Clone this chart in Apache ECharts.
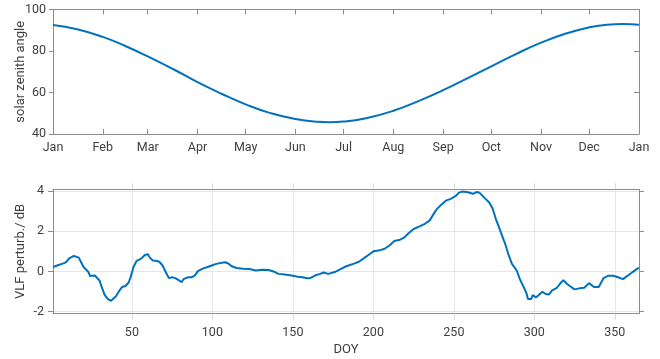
<!DOCTYPE html>
<html>
<head>
<meta charset="utf-8">
<script src="https://cdn.jsdelivr.net/npm/echarts@6/dist/echarts.min.js"></script>
<style>
  html, body { margin: 0; padding: 0; background: #ffffff; }
  #chart { width: 660px; height: 359px; }
</style>
</head>
<body>
<div id="chart"></div>
<script>
// Upper panel: noon solar zenith angle over the year
const monthStarts = [0, 31, 59, 90, 120, 151, 181, 212, 243, 273, 304, 334, 365];
const monthNames = ['Jan', 'Feb', 'Mar', 'Apr', 'May', 'Jun', 'Jul', 'Aug', 'Sep', 'Oct', 'Nov', 'Dec', 'Jan'];
const szaTicks = [40, 60, 80, 100];
const szaDays = [0, 15, 31, 45, 59, 75, 90, 105, 120, 135, 151, 165, 172, 181, 195, 212, 228, 243, 258, 273, 288, 304, 319, 334, 345, 355, 365];
const szaValues = [92.5, 90.5, 86.8, 82.4, 77.4, 71.2, 65.0, 59.4, 54.3, 50.2, 47.2, 45.9, 45.7, 46.0, 47.6, 51.2, 56.0, 61.1, 66.8, 72.6, 78.4, 84.0, 88.3, 91.4, 92.7, 93.0, 92.6];

// Lower panel: VLF amplitude perturbation by day of year
const doyTicks = [50, 100, 150, 200, 250, 300, 350];
const vlfTicks = [-2, 0, 2, 4];
const vlfDays = [1, 4, 7, 9, 11, 14, 15, 17, 18, 20, 23, 24, 27, 28, 30, 31, 33, 35, 37, 38, 40, 42, 44, 46, 48, 49, 51, 53, 56, 58, 60, 61, 63, 65, 67, 69, 71, 73, 75, 77, 79, 81, 82, 85, 87, 89, 91, 94, 97, 100, 103, 106, 108, 110, 112, 115, 119, 123, 127, 131, 135, 138, 141, 145, 150, 153, 156, 159, 161, 164, 167, 169, 172, 176, 179, 182, 185, 188, 191, 194, 198, 200, 204, 207, 210, 213, 216, 219, 222, 225, 229, 232, 235, 237, 239, 242, 245, 248, 251, 253, 255, 258, 262, 264, 266, 269, 272, 274, 276, 278, 280, 282, 284, 286, 289, 291, 293, 295, 296, 298, 299, 301, 302, 305, 307, 308, 309, 311, 314, 316, 318, 320, 322, 325, 328, 331, 334, 337, 340, 343, 346, 349, 352, 355, 358, 361, 364, 365];
const vlfValues = [0.22, 0.31, 0.39, 0.45, 0.65, 0.77, 0.70, 0.69, 0.53, 0.22, -0.03, -0.22, -0.20, -0.25, -0.46, -0.72, -1.15, -1.36, -1.46, -1.43, -1.24, -0.98, -0.77, -0.72, -0.55, -0.33, 0.22, 0.53, 0.65, 0.82, 0.86, 0.70, 0.55, 0.53, 0.48, 0.31, -0.03, -0.33, -0.29, -0.33, -0.43, -0.53, -0.38, -0.29, -0.29, -0.21, 0.02, 0.14, 0.22, 0.31, 0.39, 0.43, 0.46, 0.39, 0.26, 0.17, 0.14, 0.12, 0.05, 0.09, 0.07, 0.00, -0.12, -0.15, -0.21, -0.26, -0.29, -0.34, -0.32, -0.19, -0.12, -0.05, -0.12, -0.03, 0.09, 0.22, 0.31, 0.39, 0.48, 0.65, 0.88, 1.00, 1.05, 1.13, 1.29, 1.51, 1.56, 1.68, 1.91, 2.11, 2.25, 2.37, 2.54, 2.80, 3.06, 3.31, 3.52, 3.61, 3.74, 3.91, 3.97, 3.95, 3.86, 3.95, 3.91, 3.66, 3.43, 3.14, 2.63, 2.20, 1.77, 1.34, 0.82, 0.39, 0.05, -0.38, -0.72, -1.06, -1.37, -1.37, -1.18, -1.29, -1.24, -1.01, -1.12, -1.07, -1.15, -0.94, -0.81, -0.60, -0.43, -0.60, -0.72, -0.89, -0.84, -0.81, -0.58, -0.77, -0.77, -0.33, -0.21, -0.21, -0.29, -0.38, -0.21, -0.03, 0.14, 0.18];

const lineBlue = '#0072BD';
const frameGrey = '#8c8c8c';
const gridGrey = '#e6e6e6';
const textGrey = '#404040';
const font = 'Roboto, "Noto Sans", sans-serif';

const szaData = szaDays.map((d, i) => [d, szaValues[i]]);
const vlfData = vlfDays.map((d, i) => [d, vlfValues[i]]);

const chart = echarts.init(document.getElementById('chart'), null, { renderer: 'canvas' });

const labelStyle = { color: textGrey, fontSize: 12.5, fontFamily: font };
const nameStyle = { color: textGrey, fontSize: 13, fontFamily: font };

chart.setOption({
  animation: false,
  backgroundColor: '#ffffff',
  grid: [
    { left: 53, right: 21, top: 9.5, height: 124.5, containLabel: false },
    { left: 53, right: 21, top: 189.3, height: 124.2, containLabel: false }
  ],
  xAxis: [
    // upper panel, bottom: months
    {
      type: 'value', gridIndex: 0, min: 0, max: 365, position: 'bottom',
      axisLine: { show: true, onZero: false, lineStyle: { color: frameGrey, width: 1 } },
      axisTick: { show: true, inside: true, length: 5, customValues: monthStarts, lineStyle: { color: frameGrey } },
      axisLabel: Object.assign({}, labelStyle, {
        margin: 7, customValues: monthStarts,
        formatter: v => monthNames[monthStarts.indexOf(v)]
      }),
      splitLine: { show: false }
    },
    // upper panel, top frame
    {
      type: 'value', gridIndex: 0, min: 0, max: 365, position: 'top',
      axisLine: { show: true, onZero: false, lineStyle: { color: frameGrey, width: 1 } },
      axisTick: { show: true, inside: true, length: 5, customValues: monthStarts, lineStyle: { color: frameGrey } },
      axisLabel: { show: false },
      splitLine: { show: false }
    },
    // lower panel, bottom: DOY
    {
      type: 'value', gridIndex: 1, min: 1, max: 365, position: 'bottom',
      name: 'DOY', nameLocation: 'middle', nameGap: 30, nameMoveOverlap: false,
      nameTextStyle: nameStyle,
      axisLine: { show: true, onZero: false, lineStyle: { color: frameGrey, width: 1 } },
      axisTick: { show: true, inside: false, length: 6, customValues: doyTicks, lineStyle: { color: '#d9d9d9' } },
      axisLabel: Object.assign({}, labelStyle, { margin: 13, customValues: doyTicks }),
      splitLine: { show: true, lineStyle: { color: gridGrey, width: 1 } }
    },
    // lower panel, top frame
    {
      type: 'value', gridIndex: 1, min: 1, max: 365, position: 'top',
      axisLine: { show: true, onZero: false, lineStyle: { color: frameGrey, width: 1 } },
      axisTick: { show: true, inside: false, length: 6, customValues: doyTicks, lineStyle: { color: '#d9d9d9' } },
      axisLabel: { show: false },
      splitLine: { show: false }
    }
  ],
  yAxis: [
    {
      type: 'value', gridIndex: 0, min: 40, max: 100, position: 'left',
      name: 'solar zenith angle', nameLocation: 'middle', nameGap: 26, nameRotate: 90, nameMoveOverlap: false,
      nameTextStyle: nameStyle,
      axisLine: { show: true, onZero: false, lineStyle: { color: frameGrey, width: 1 } },
      axisTick: { show: true, inside: false, length: 4, customValues: szaTicks, lineStyle: { color: frameGrey } },
      axisLabel: Object.assign({}, labelStyle, { margin: 7, customValues: szaTicks }),
      splitLine: { show: false }
    },
    {
      type: 'value', gridIndex: 0, min: 40, max: 100, position: 'right',
      axisLine: { show: true, onZero: false, lineStyle: { color: frameGrey, width: 1 } },
      axisTick: { show: true, inside: true, length: 5, customValues: szaTicks, lineStyle: { color: frameGrey } },
      axisLabel: { show: false },
      splitLine: { show: false }
    },
    {
      type: 'value', gridIndex: 1, min: -2.09, max: 4.085, position: 'left',
      name: 'VLF perturb./ dB', nameLocation: 'middle', nameGap: 26, nameRotate: 90, nameMoveOverlap: false,
      nameTextStyle: nameStyle,
      axisLine: { show: true, onZero: false, lineStyle: { color: frameGrey, width: 1 } },
      axisTick: { show: true, inside: false, length: 5, customValues: vlfTicks, lineStyle: { color: frameGrey } },
      axisLabel: Object.assign({}, labelStyle, { margin: 9, customValues: vlfTicks }),
      splitLine: { show: true, lineStyle: { color: gridGrey, width: 1 } }
    },
    {
      type: 'value', gridIndex: 1, min: -2.09, max: 4.085, position: 'right',
      axisLine: { show: true, onZero: false, lineStyle: { color: frameGrey, width: 1 } },
      axisTick: { show: true, inside: false, length: 5, customValues: vlfTicks, lineStyle: { color: frameGrey } },
      axisLabel: { show: false },
      splitLine: { show: false }
    }
  ],
  series: [
    {
      type: 'line', xAxisIndex: 0, yAxisIndex: 0, data: szaData,
      smooth: true, showSymbol: false, lineStyle: { color: lineBlue, width: 2 }
    },
    {
      type: 'line', xAxisIndex: 2, yAxisIndex: 2, data: vlfData,
      smooth: false, showSymbol: false, lineStyle: { color: lineBlue, width: 2 }
    }
  ]
});
</script>
</body>
</html>
